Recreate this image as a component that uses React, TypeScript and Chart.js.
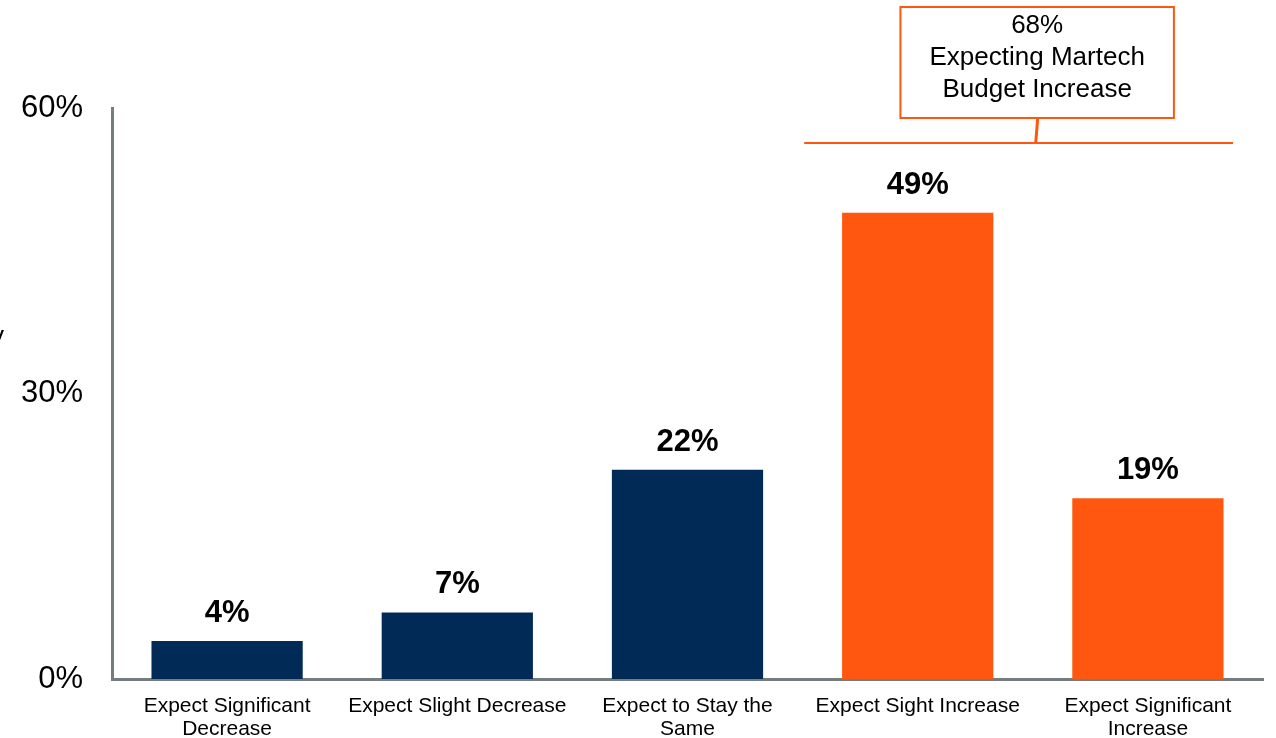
import React, { useEffect, useRef } from 'react';
import { Chart, registerables } from 'chart.js';

Chart.register(...registerables);

const NAVY = '#022A56';
const ORANGE = '#FF570F';
const AXIS_GRAY = '#767D7E';
const FONT = '"Liberation Sans", Arial, sans-serif';

const categories: string[][] = [
  ['Expect Significant', 'Decrease'],
  ['Expect Slight Decrease'],
  ['Expect to Stay the', 'Same'],
  ['Expect Sight Increase'],
  ['Expect Significant', 'Increase'],
];
const values = [4, 7, 22, 49, 19];
const barColors = [NAVY, NAVY, NAVY, ORANGE, ORANGE];
const yMin = 0;
const yMax = 60;
const yStep = 30;
const calloutLines = ['68%', 'Expecting Martech', 'Budget Increase'];
const calloutBracketValue = 56.3; // y-value where bracket line sits

export default function App() {
  const canvasRef = useRef<HTMLCanvasElement | null>(null);

  useEffect(() => {
    const canvas = canvasRef.current;
    if (!canvas) return;

    const labelsPlugin = {
      id: 'valueLabels',
      afterDatasetsDraw(chart: any) {
        const ctx = chart.ctx;
        const meta = chart.getDatasetMeta(0);
        ctx.save();
        ctx.font = `bold 31px ${FONT}`;
        ctx.fillStyle = '#000';
        ctx.textAlign = 'center';
        ctx.textBaseline = 'alphabetic';
        meta.data.forEach((bar: any, i: number) => {
          ctx.fillText(values[i] + '%', bar.x, bar.y - 19);
        });
        ctx.restore();
      },
    };

    const calloutPlugin = {
      id: 'callout',
      afterDraw(chart: any) {
        const ctx = chart.ctx;
        const xs = chart.scales.x;
        const ys = chart.scales.y;
        const lineY = Math.round(ys.getPixelForValue(calloutBracketValue));
        const lineL = xs.getPixelForValue(2.507);
        const lineR = xs.getPixelForValue(4.37);
        const cx = xs.getPixelForValue(3.517);
        const boxL = xs.getPixelForValue(2.925);
        const boxR = xs.getPixelForValue(4.113);
        const boxB = lineY - 25;
        const boxT = 7;
        ctx.save();
        ctx.strokeStyle = ORANGE;
        ctx.lineWidth = 2;
        ctx.beginPath();
        ctx.moveTo(lineL, lineY);
        ctx.lineTo(lineR, lineY);
        ctx.stroke();
        ctx.lineWidth = 3;
        ctx.beginPath();
        ctx.moveTo(cx - 1, lineY);
        ctx.lineTo(cx + 1, boxB);
        ctx.stroke();
        ctx.lineWidth = 2;
        ctx.fillStyle = '#fff';
        ctx.fillRect(boxL, boxT, boxR - boxL, boxB - boxT);
        ctx.strokeRect(boxL, boxT, boxR - boxL, boxB - boxT);
        ctx.fillStyle = '#000';
        ctx.font = `26px ${FONT}`;
        ctx.textAlign = 'center';
        ctx.textBaseline = 'middle';
        const mid = (boxL + boxR) / 2;
        calloutLines.forEach((t, i) => {
          ctx.fillText(t, mid, 26 + i * 32);
        });
        // cropped axis-title fragment at the left edge
        ctx.font = `26px ${FONT}`;
        ctx.textAlign = 'left';
        ctx.textBaseline = 'alphabetic';
        ctx.fillText('y', -9, 344);
        ctx.restore();
      },
    };

    const chart = new Chart(canvas, {
      type: 'bar',
      data: {
        labels: categories,
        datasets: [
          {
            data: values,
            backgroundColor: barColors,
            borderWidth: 0,
            categoryPercentage: 1,
            barPercentage: 0.657,
          },
        ],
      },
      options: {
        responsive: false,
        animation: false,
        layout: { padding: { top: 108, right: 13, left: 0, bottom: 0 } },
        plugins: {
          legend: { display: false },
          tooltip: { enabled: false },
          title: { display: false },
        },
        scales: {
          x: {
            grid: { display: false, drawTicks: false },
            border: { display: true, color: AXIS_GRAY, width: 3 },
            ticks: {
              color: '#000',
              font: { family: FONT, size: 21, lineHeight: 1.1 },
              padding: 16,
              maxRotation: 0,
              autoSkip: false,
            },
            afterFit(scale: any) {
              scale.height = 59;
            },
          },
          y: {
            min: yMin,
            max: yMax,
            grid: { display: false, drawTicks: false },
            border: { display: true, color: AXIS_GRAY, width: 3 },
            ticks: {
              stepSize: yStep,
              color: '#000',
              font: { family: FONT, size: 31 },
              padding: 29,
              callback: (v: any) => v + '%',
            },
            afterFit(scale: any) {
              scale.width = 112;
            },
          },
        },
      },
      plugins: [labelsPlugin, calloutPlugin],
    });

    return () => chart.destroy();
  }, []);

  return (
    <div style={{ position: 'fixed', left: 0, top: 0, width: 1276, height: 738, background: '#fff' }}>
      <canvas ref={canvasRef} width={1276} height={738} style={{ display: 'block' }} />
    </div>
  );
}
